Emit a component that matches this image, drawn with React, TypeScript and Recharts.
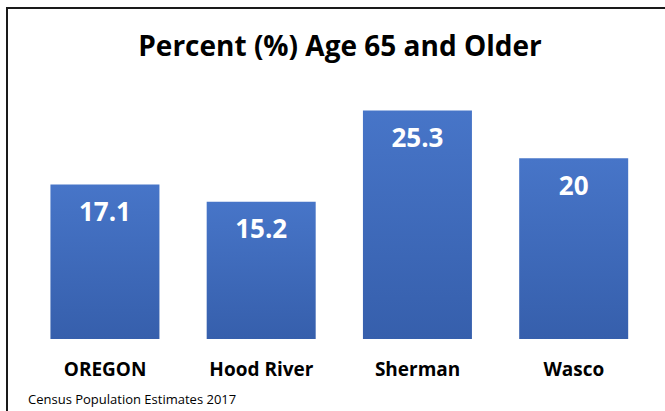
import React from 'react';
import { BarChart, Bar, XAxis, YAxis, LabelList } from 'recharts';

const categories = ['OREGON', 'Hood River', 'Sherman', 'Wasco'];
const percentOver65 = [17.1, 15.2, 25.3, 20];
const valueLabels = ['17.1', '15.2', '25.3', '20'];

const font = '"Open Sans", "DejaVu Sans", sans-serif';

const CategoryTick = (props: any) => {
  const { x, y, payload } = props;
  return (
    <text x={x} y={y + 37} textAnchor="middle" fontFamily={font} fontWeight={700} fontSize={19} fill="#000">
      {payload.value}
    </text>
  );
};

const App: React.FC = () => {
  const data = categories.map((name, i) => ({ name, value: percentOver65[i], label: valueLabels[i] }));

  return (
    <div style={{ position: 'absolute', left: 0, top: 0, width: 665, height: 411, overflow: 'hidden', background: '#fff' }}>
      <div
        style={{
          position: 'absolute',
          left: 6,
          top: 7,
          width: 700,
          height: 450,
          borderTop: '2px solid #1a1a1a',
          borderLeft: '2px solid #1a1a1a',
        }}
      />
      <div
        style={{
          position: 'absolute',
          left: 0,
          top: 27,
          width: 680,
          textAlign: 'center',
          fontFamily: font,
          fontWeight: 700,
          fontSize: 28,
          color: '#000',
          lineHeight: '36px',
        }}
      >
        Percent (%) Age 65 and Older
      </div>
      <div style={{ position: 'absolute', left: 0, top: 0 }}>
        <BarChart width={665} height={411} data={data} margin={{ top: 68, right: 13, bottom: 42, left: 27 }} barCategoryGap="15%">
          <defs>
            <linearGradient id="barFill" x1="0" y1="0" x2="0" y2="1">
              <stop offset="0%" stopColor="#4775C8" />
              <stop offset="100%" stopColor="#365FAC" />
            </linearGradient>
          </defs>
          <XAxis dataKey="name" axisLine={false} tickLine={false} tickSize={0} tickMargin={0} height={30} tick={<CategoryTick />} interval={0} />
          <YAxis hide domain={[0, 30]} />
          <Bar dataKey="value" fill="url(#barFill)" isAnimationActive={false}>
            <LabelList dataKey="label" position="insideTop" offset={18} fill="#fff" fontFamily={font} fontWeight={700} fontSize={26} />
          </Bar>
        </BarChart>
      </div>
      <div
        style={{
          position: 'absolute',
          left: 28,
          top: 390,
          fontFamily: font,
          fontSize: 13,
          color: '#000',
        }}
      >
        Census Population Estimates 2017
      </div>
    </div>
  );
};

export default App;
